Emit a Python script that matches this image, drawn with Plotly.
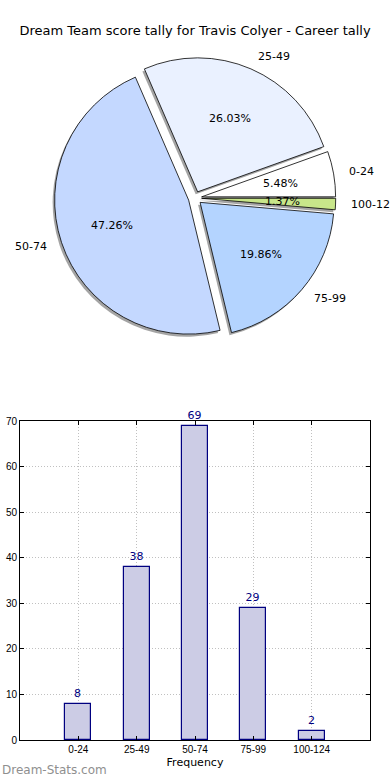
import math
import plotly.graph_objects as go

# ---- data ----
categories = ["0-24", "25-49", "50-74", "75-99", "100-124"]
counts = [8, 38, 69, 29, 2]
pie_colors = ["#FFFFFF", "#EAF1FF", "#C4D8FF", "#B4D4FF", "#C8E68A"]
y_ticks = [0, 10, 20, 30, 40, 50, 60, 70]

W, H = 390, 780
title_text = "Dream Team score tally for Travis Colyer - Career tally"

# ---- pie geometry (pixels) ----
cx, cy = 195, 198
R = 134
PULL = 0.05
SH_DX, SH_DY = -2.0, 2.5

total = sum(counts)
# plotly's counterclockwise pies end the first slice at the rotation angle;
# shift so that the first slice starts at 3 o'clock (matplotlib startangle=0)
rotation = 90 - counts[0] / total * 360


def px_to_paper(x, y):
    return x / W, 1 - y / H


def pie_domain(dx=0.0, dy=0.0):
    half = R * (1 + PULL)
    x0, y0 = px_to_paper(cx + dx - half, cy + dy + half)
    x1, y1 = px_to_paper(cx + dx + half, cy + dy - half)
    return dict(x=[x0, x1], y=[y0, y1])


fig = go.Figure()

# shadow
fig.add_trace(go.Pie(
    labels=categories, values=counts, sort=False, direction="counterclockwise",
    rotation=rotation, pull=[PULL] * len(counts), textinfo="none", hoverinfo="skip",
    marker=dict(colors=["rgba(90,90,90,0.55)"] * len(counts), line=dict(width=0)),
    domain=pie_domain(SH_DX, SH_DY), showlegend=False,
))
# main pie
fig.add_trace(go.Pie(
    labels=categories, values=counts, sort=False, direction="counterclockwise",
    rotation=rotation, pull=[PULL] * len(counts), textinfo="none",
    marker=dict(colors=pie_colors, line=dict(color="#000000", width=0.8)),
    domain=pie_domain(), showlegend=False,
))

# pie text (percentages inside, labels outside), derived from the data
annotations = []
start = 0.0
for cat, v in zip(categories, counts):
    frac = v / total
    mid = math.radians((start + frac / 2) * 360)
    start += frac
    ux, uy = math.cos(mid), -math.sin(mid)
    ex, ey = cx + PULL * R * ux, cy + PULL * R * uy
    # percentage
    px, py = ex + 0.6 * R * ux, ey + 0.6 * R * uy
    xp, yp = px_to_paper(px, py)
    annotations.append(dict(
        x=xp, y=yp, xref="paper", yref="paper", text=f"{frac*100:.2f}%",
        showarrow=False, xanchor="center", yanchor="middle",
        font=dict(family="DejaVu Sans", size=11, color="#000000")))
    # label
    lx, ly = ex + 1.1 * R * ux, ey + 1.1 * R * uy
    xp, yp = px_to_paper(lx, ly)
    annotations.append(dict(
        x=xp, y=yp, xref="paper", yref="paper", text=cat,
        showarrow=False, xanchor="left" if ux > 0 else "right", yanchor="middle",
        font=dict(family="DejaVu Sans", size=11, color="#000000")))

# watermark
annotations.append(dict(
    x=0, y=px_to_paper(0, 770)[1], xref="paper", yref="paper", text="Dream-Stats.com",
    showarrow=False, xanchor="left", yanchor="middle",
    font=dict(family="DejaVu Sans", size=12, color="#8f8f8f")))

# ---- bar chart ----
fig.add_trace(go.Bar(
    x=categories, y=counts, width=0.45,
    marker=dict(color="#CCCCE5", line=dict(color="#000080", width=1.2)),
    text=[str(c) for c in counts], textposition="outside", cliponaxis=False,
    constraintext="none",
    textfont=dict(family="DejaVu Sans", size=11, color="#000080"),
    showlegend=False,
))

bx0, by1 = px_to_paper(20, 740)
bx1, by0 = px_to_paper(370, 421)

axis_common = dict(
    showline=True, linecolor="#000000", linewidth=1, mirror="allticks",
    ticks="inside", ticklen=4, tickcolor="#000000",
    showgrid=True, gridcolor="#c0c0c0", griddash="1px,2px", gridwidth=1,
    zeroline=False, automargin=False, layer="above traces",
)

fig.update_layout(
    width=W, height=H,
    margin=dict(l=0, r=0, t=0, b=0),
    paper_bgcolor="#FFFFFF", plot_bgcolor="#FFFFFF",
    title=dict(text=title_text, x=0.5, xanchor="center", y=1 - 30 / H, yanchor="middle",
               yref="container", font=dict(family="DejaVu Sans", size=13, color="#000000")),
    xaxis=dict(domain=[bx0, bx1], anchor="y", type="category", range=[-1, 5],
               tickfont=dict(family="Liberation Sans Narrow, Liberation Sans", size=10, color="#000000"),
               title=dict(text="Frequency", standoff=4,
                          font=dict(family="DejaVu Sans", size=11, color="#000000")),
               **axis_common),
    yaxis=dict(domain=[by1, by0], anchor="x", range=[0, 70], tickvals=y_ticks,
               tickfont=dict(family="Liberation Sans Narrow, Liberation Sans", size=10, color="#000000"),
               **axis_common),
    annotations=annotations,
    bargap=0,
)

fig.write_html("out.html", config={"displayModeBar": False},
               post_script="document.body.style.margin='0';")
